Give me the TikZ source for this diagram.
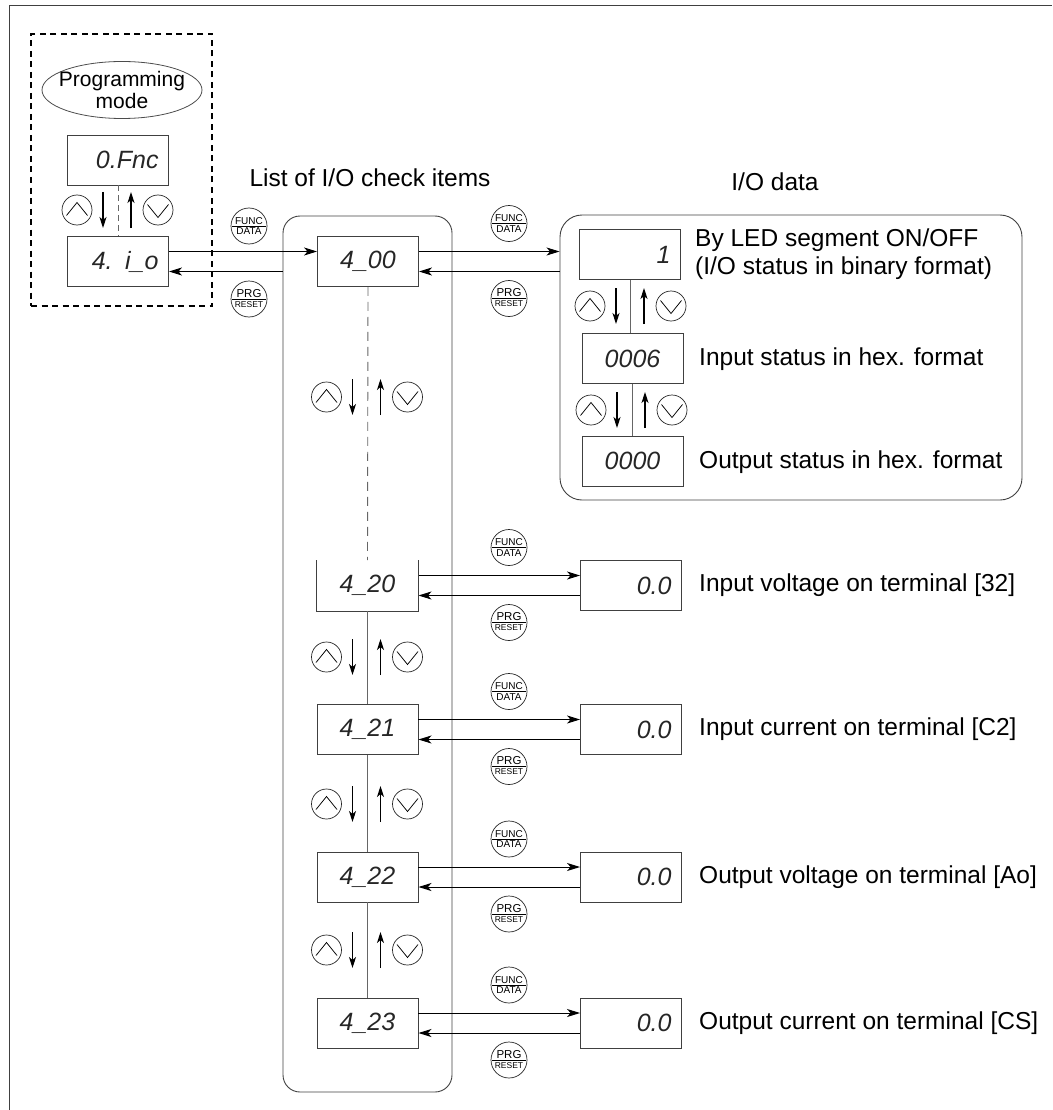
\documentclass[tikz,border=0pt]{standalone}
\usepackage{fontspec}
\setmainfont{Liberation Sans}
\newfontfamily\ledfont{Liberation Sans}
\usetikzlibrary{arrows.meta,shapes.geometric,calc}

\newcommand\fdbtn[3]{%
  \node[btnc] (#1) at (#2,#3) {};
  \draw[line width=0.8pt] ([xshift=1.5pt]#1.west) -- ([xshift=-1.5pt]#1.east);
  \node[btxt, anchor=south, font=\fontsize{10}{10}\selectfont] (#1t) at ([yshift=1.4pt]#1.center) {FUNC};
  \node[btxt, anchor=north, font=\fontsize{10}{10}\selectfont] (#1b) at ([yshift=-1.8pt]#1.center) {DATA};}
\newcommand\prbtn[3]{%
  \node[btnc] (#1) at (#2,#3) {};
  \draw[line width=0.8pt] ([xshift=1.5pt]#1.west) -- ([xshift=-1.5pt]#1.east);
  \node[btxt, anchor=south, font=\fontsize{11.5}{11.5}\selectfont] (#1t) at ([yshift=1.4pt]#1.center) {PRG};
  \node[btxt, anchor=north, font=\fontsize{8.5}{8.5}\selectfont] (#1b) at ([yshift=-2pt]#1.center) {RESET};}
\newcommand\upkey[3]{%
  \node[keyc] (#1) at (#2,#3) {};
  \draw[line width=0.75pt] ($(#1)+(-10.5,5.5)$) -- ($(#1)+(0,-7.5)$) -- ($(#1)+(10.5,5.5)$);}
\newcommand\dnkey[3]{%
  \node[keyc] (#1) at (#2,#3) {};
  \draw[line width=0.75pt] ($(#1)+(-10.5,-5.5)$) -- ($(#1)+(0,7.5)$) -- ($(#1)+(10.5,-5.5)$);}
\newcommand\updn[3]{%
  \upkey{#1u}{#2-41}{#3}
  \coordinate (#1a) at (#2-15,#3-18);
  \coordinate (#1b) at (#2-15,#3+18);
  \draw[mv] (#1a) -- (#1b);
  \coordinate (#1c) at (#2+13,#3+18);
  \coordinate (#1d) at (#2+13,#3-18);
  \draw[mv] (#1c) -- (#1d);
  \dnkey{#1v}{#2+40}{#3}}
\newcommand\iorow[6]{%
  \node[#6] (l#1) at (367.5,#2) {#3};
  \node[lcdr] (d#1) at (631,#2) {#4};
  \node[lbl] (t#1) at (699,#2) {#5};
  \draw[conn] ([yshift=10pt]l#1.east) -- ([yshift=10pt]d#1.west);
  \draw[conn] ([yshift=-10pt]d#1.west) -- ([yshift=-10pt]l#1.east);
  \fdbtn{f#1}{509}{#2-38}
  \prbtn{p#1}{509}{#2+37}}

\begin{document}
\begin{tikzpicture}[x=1pt,y=-1pt,
  box/.style={draw=black!75, line width=0.9pt},
  lcd/.style={box, minimum height=50pt, inner xsep=10pt, inner ysep=0pt, text width=81pt, font=\ledfont\itshape\fontsize{25}{25}\selectfont, text=black!85},
  lcdc/.style={lcd, align=center},
  lcdr/.style={lcd, align=right},
  lcdopen/.style={lcdc, draw=none},
  conn/.style={line width=1pt, -{Stealth[length=13pt,width=8pt,inset=3.5pt]}},
  mv/.style={line width=1.1pt, -{Stealth[length=11pt,width=7pt,inset=3pt]}},
  keyc/.style={circle, draw=black!85, line width=0.7pt, minimum size=30pt, inner sep=0pt},
  btnc/.style={circle, draw=black!85, line width=0.7pt, minimum size=36pt, inner sep=0pt},
  btxt/.style={inner sep=0pt},
  lbl/.style={anchor=west, inner sep=0pt, font=\fontsize{24.5}{28}\selectfont},
  vline/.style={draw=black!60, line width=0.9pt},
]
\useasboundingbox (0,0) rectangle (1052,1110);
\draw[line width=1pt, black!75] (9,1110) -- (9,6) -- (1052,6);

% containers
\node[draw=black!75, line width=0.9pt, rounded corners=17pt, minimum width=169pt, minimum height=876pt, inner sep=0pt] (list) at (367.5,654) {};
\node[draw=black!75, line width=0.9pt, rounded corners=22pt, minimum width=462pt, minimum height=285pt, inner sep=0pt] (iod) at (791,357.5) {};
\node[draw=black, line width=1.2pt, dash pattern=on 6pt off 4.5pt, minimum width=181pt, minimum height=272pt, inner sep=0pt] (pbox) at (121.5,170) {};

% titles
\node[font=\fontsize{24.5}{28}\selectfont, inner sep=0pt] (ttl) at (370,178) {List of I/O check items};
\node[font=\fontsize{24.5}{28}\selectfont, inner sep=0pt] (iot) at (775,182) {I/O data};

% programming mode
\node[ellipse, draw=black!70, line width=0.8pt, minimum width=160pt, minimum height=57pt, inner sep=0pt] (pm) at (122,90) {};
\node[align=center, inner sep=0pt, font=\fontsize{21}{22}\selectfont] (pmt) at (pm.center) {Programming\\mode};
\node[lcdr] (fnc) at (118,160) {0.Fnc};
\node[lcdr] (io) at (118,261.5) {4. i\_o};
\draw[vline, dashed, dash pattern=on 6pt off 4pt] (fnc.south) -- (io.north);
\updn{pg}{118}{210}

% first check item
\node[lcdc] (l00) at (368,261.5) {4\_00};
\draw[conn] ([yshift=10pt]io.east) -- ([yshift=10pt]l00.west);
\draw[conn] ([yshift=-10pt]io.east -| list.west) -- ([yshift=-10pt]io.east);
\fdbtn{fl}{249}{226}
\prbtn{pl}{249}{299}
\draw[conn] ([yshift=10pt]l00.east) -- ([yshift=10pt]l00.east -| iod.west);
\draw[conn] ([yshift=-10pt]l00.east -| iod.west) -- ([yshift=-10pt]l00.east);
\fdbtn{f00}{509}{223.5}
\prbtn{p00}{509}{298.5}

% I/O data contents
\node[lcdr] (d1) at (630,254.5) {1};
\node[lbl, align=left] (t1) at (695,254) {By LED segment ON/OFF\\(I/O status in binary format)};
\node[lcdc] (d6) at (632.5,358.5) {0006};
\node[lbl] (t6) at (699,359) {Input status in hex. format};
\node[lcdc] (d0) at (632.5,461) {0000};
\node[lbl] (t0) at (699,462) {Output status in hex. format};
\draw[vline] (d1.south) -- (d1.south |- d6.north);
\draw[vline] (d6.south) -- (d0.north);
\updn{ia}{631}{306}
\updn{ib}{632}{410}

% rows
\iorow{20}{585.5}{4\_20}{0.0}{Input voltage on terminal [32]}{lcdopen}
\draw[box] (l20.north west) -- (l20.south west) -- (l20.south east) -- (l20.north east);
\iorow{21}{729.5}{4\_21}{0.0}{Input current on terminal [C2]}{lcdc}
\iorow{22}{877}{4\_22}{0.0}{Output voltage on terminal [Ao]}{lcdc}
\iorow{23}{1023}{4\_23}{0.0}{Output current on terminal [CS]}{lcdc}

% vertical links in the list
\draw[vline, dashed, dash pattern=on 9pt off 6pt] (l00.south) -- (l20.north);
\draw[vline] (l20.south) -- (l21.north);
\draw[vline] (l21.south) -- (l22.north);
\draw[vline] (l22.south) -- (l23.north);
\updn{la}{367.5}{397}
\updn{lb}{367.5}{657}
\updn{lc}{367.5}{804}
\updn{ld}{367.5}{950}
\end{tikzpicture}
\end{document}
